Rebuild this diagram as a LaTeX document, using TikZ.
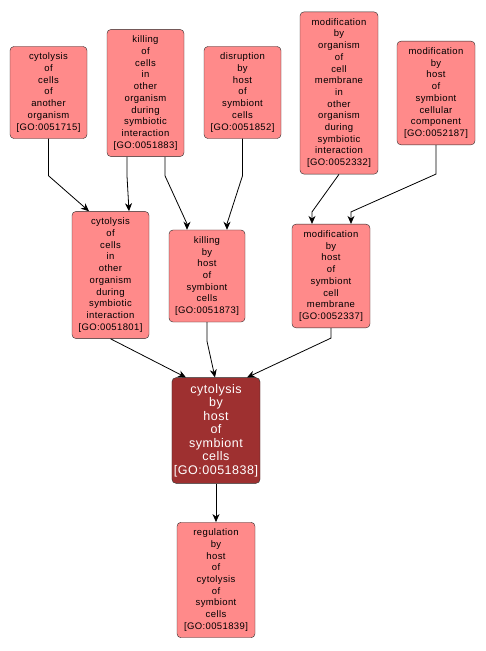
\documentclass[tikz,border=0pt]{standalone}
\usepackage{fontspec}
\setmainfont{Liberation Sans}
\newfontfamily\gofont[LetterSpace=4]{Liberation Sans}
\usetikzlibrary{arrows.meta}
\definecolor{goterm}{HTML}{FF8A8A}
\definecolor{gofocus}{HTML}{9E3030}
\definecolor{goline}{HTML}{2A2A2A}

\begin{document}
\begin{tikzpicture}[
  x=1pt, y=-1pt,
  >={Stealth[length=8pt, width=7pt, inset=2.5pt]},
  term/.style={draw=goline, fill=goterm, rounded corners=4pt, align=center,
    minimum width=77pt, inner xsep=2pt, inner ysep=6.5pt,
    font=\gofont\fontsize{9.5}{11.7}\selectfont},
  focus/.style={term, fill=gofocus, text=white, minimum width=88pt,
    font=\gofont\fontsize{12.5}{13.5}\selectfont},
  edge/.style={->, line width=0.8pt, black}
]

% Canvas
\useasboundingbox (0,0) rectangle (486,651);

% ── Top row ──
\node[term] (go51715) at (48.5,92.5)
  {cytolysis\\of\\cells\\of\\another\\organism\\{[GO:0051715]}};
\node[term] (go51883) at (145.5,93)
  {killing\\of\\cells\\in\\other\\organism\\during\\symbiotic\\interaction\\{[GO:0051883]}};
\node[term] (go51852) at (242.5,92.5)
  {disruption\\by\\host\\of\\symbiont\\cells\\{[GO:0051852]}};
\node[term, minimum width=78pt] (go52332) at (339,93)
  {modification\\by\\organism\\of\\cell\\membrane\\in\\other\\organism\\during\\symbiotic\\interaction\\{[GO:0052332]}};
\node[term, minimum width=78pt] (go52187) at (436,93)
  {modification\\by\\host\\of\\symbiont\\cellular\\component\\{[GO:0052187]}};

% ── Middle row ──
\node[term] (go51801) at (110.5,275)
  {cytolysis\\of\\cells\\in\\other\\organism\\during\\symbiotic\\interaction\\{[GO:0051801]}};
\node[term, minimum width=76pt] (go51873) at (207,276)
  {killing\\by\\host\\of\\symbiont\\cells\\{[GO:0051873]}};
\node[term, minimum width=78pt] (go52337) at (331,276)
  {modification\\by\\host\\of\\symbiont\\cell\\membrane\\{[GO:0052337]}};

% ── Focus term ──
\node[focus] (go51838) at (216,430.5)
  {cytolysis\\by\\host\\of\\symbiont\\cells\\{[GO:0051838]}};

% ── Child term ──
\node[term, minimum width=78pt] (go51839) at (216,580)
  {regulation\\by\\host\\of\\cytolysis\\of\\symbiont\\cells\\{[GO:0051839]}};

% ── Edges, top row to middle row ──
\draw[edge] (go51715.south) -- ++(0,37) -- ([xshift=-21.5pt]go51801.north);
\draw[edge] ([xshift=-18.5pt]go51883.south) -- ++(0,19) -- ([xshift=18.5pt]go51801.north);
\draw[edge] ([xshift=19.5pt]go51883.south) -- ++(0,19)
  -- ([xshift=-20pt, yshift=6pt]go51873.north) -- ([xshift=-20pt]go51873.north);
\draw[edge] (go51852.south) -- ++(0,37)
  -- ([xshift=20pt, yshift=6pt]go51873.north) -- ([xshift=20pt]go51873.north);
\draw[edge] (go52332.south)
  -- ([xshift=-19pt, yshift=12pt]go52337.north) -- ([xshift=-19pt]go52337.north);
\draw[edge] (go52187.south) -- ++(0,29)
  -- ([xshift=20pt, yshift=12pt]go52337.north) -- ([xshift=20pt]go52337.north);

% ── Edges, middle row to focus ──
\draw[edge] (go51801.south) -- ([xshift=-30pt]go51838.north);
\draw[edge] (go51873.south) -- ++(0,19) -- ([xshift=-1pt]go51838.north);
\draw[edge] (go52337.south) -- ++(0,10) -- ([xshift=31pt]go51838.north);

% ── Focus to child ──
\draw[edge] (go51838.south) -- (go51839.north);

\end{tikzpicture}
\end{document}
